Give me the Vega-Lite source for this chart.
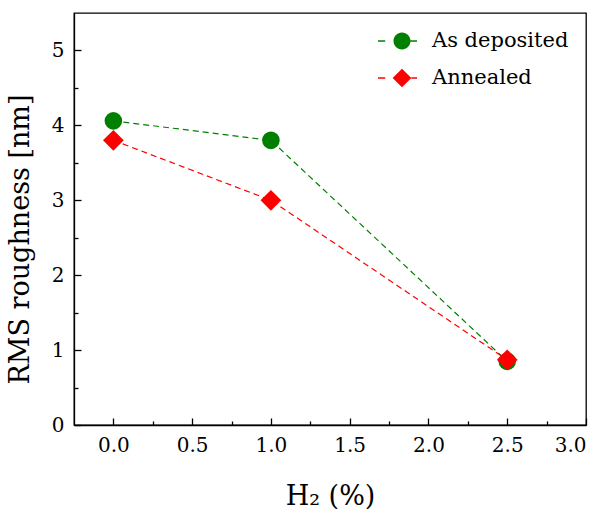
{
  "$schema": "https://vega.github.io/schema/vega-lite/v6.json",
  "width": 512,
  "height": 412,
  "autosize": "none",
  "padding": {"left": 74, "top": 13, "right": 17, "bottom": 84},
  "background": "white",
  "config": {
    "view": {"stroke": "black", "strokeWidth": 1.3},
    "axis": {
      "domainColor": "black",
      "domainWidth": 1.3,
      "tickColor": "black",
      "tickWidth": 1.3,
      "grid": false,
      "labelFont": "DejaVu Serif",
      "labelFontSize": 20,
      "labelColor": "black",
      "titleFont": "DejaVu Serif",
      "titleFontSize": 27,
      "titleFontWeight": "normal",
      "titleColor": "black"
    },
    "legend": {
      "labelFont": "DejaVu Serif",
      "labelFontSize": 21,
      "labelColor": "black"
    }
  },
  "data": {
    "values": [
      {"h2": 0.0, "rms": 4.06, "series": "As deposited"},
      {"h2": 1.0, "rms": 3.80, "series": "As deposited"},
      {"h2": 2.5, "rms": 0.85, "series": "As deposited"},
      {"h2": 0.0, "rms": 3.80, "series": "Annealed"},
      {"h2": 1.0, "rms": 3.00, "series": "Annealed"},
      {"h2": 2.5, "rms": 0.87, "series": "Annealed"}
    ]
  },
  "encoding": {
    "x": {
      "field": "h2",
      "type": "quantitative",
      "scale": {"domain": [-0.25, 3.0], "nice": false, "zero": false},
      "axis": {
        "title": "H₂ (%)",
        "values": [0, 0.25, 0.5, 0.75, 1, 1.25, 1.5, 1.75, 2, 2.25, 2.5, 2.75, 3],
        "format": ".1f",
        "labelExpr": "datum.value % 0.5 === 0 ? datum.label : ''",
        "tickSize": {"condition": {"test": "datum.value % 0.5 === 0", "value": -7}, "value": -4},
        "labelPadding": 17,
        "titleBaseline": "alphabetic",
        "titleY": 79
      }
    },
    "y": {
      "field": "rms",
      "type": "quantitative",
      "scale": {"domain": [0, 5.5], "nice": false},
      "axis": {
        "title": "RMS roughness [nm]",
        "values": [0, 0.5, 1, 1.5, 2, 2.5, 3, 3.5, 4, 4.5, 5],
        "format": ".0f",
        "labelExpr": "datum.value % 1 === 0 ? datum.label : ''",
        "tickSize": {"condition": {"test": "datum.value % 1 === 0", "value": -7}, "value": -4},
        "labelPadding": 17,
        "titleBaseline": "alphabetic",
        "titleAlign": "center",
        "titleAngle": 270,
        "titleX": -46,
        "titleY": 226
      }
    }
  },
  "layer": [
    {
      "transform": [{"filter": "datum.series === 'As deposited'"}],
      "mark": {"type": "line", "strokeDash": [6, 4], "strokeWidth": 1.2, "color": "#008000"},
      "encoding": {}
    },
    {
      "transform": [{"filter": "datum.series === 'Annealed'"}],
      "mark": {"type": "line", "strokeDash": [6, 4], "strokeWidth": 1.2, "color": "#ff0000"},
      "encoding": {}
    },
    {
      "transform": [{"filter": "datum.series === 'As deposited'"}],
      "mark": {"type": "point", "filled": true, "opacity": 1, "shape": "circle", "size": 310, "color": "#008000"}
    },
    {
      "transform": [{"filter": "datum.series === 'Annealed'"}],
      "mark": {"type": "point", "filled": true, "opacity": 1, "shape": "diamond", "size": 430, "color": "#ff0000"}
    },
    {
      "mark": {"type": "point", "filled": true, "opacity": 0, "size": 2304},
      "encoding": {
        "color": {
          "field": "series",
          "type": "nominal",
          "scale": {"domain": ["As deposited", "Annealed"], "range": ["#008000", "#ff0000"]},
          "legend": {
            "orient": "none",
            "legendX": 303,
            "legendY": 3,
            "title": null,
            "symbolSize": 2304,
            "symbolOpacity": 1,
            "labelOffset": 5,
            "rowPadding": -13
          }
        },
        "shape": {
          "field": "series",
          "type": "nominal",
          "scale": {
            "domain": ["As deposited", "Annealed"],
            "range": [
              "M-1,-0.03H-0.7V0.03H-1Z M-0.354,0A0.354,0.354,0,1,1,0.354,0A0.354,0.354,0,1,1,-0.354,0Z M0.354,-0.03H0.625V0.03H0.354Z",
              "M-1,-0.03H-0.7V0.03H-1Z M-0.39,0L0,-0.39L0.39,0L0,0.39Z M0.39,-0.03H0.625V0.03H0.39Z"
            ]
          },
          "legend": {
            "orient": "none",
            "legendX": 303,
            "legendY": 3,
            "title": null,
            "symbolSize": 2304,
            "symbolOpacity": 1,
            "labelOffset": 5,
            "rowPadding": -13
          }
        }
      }
    }
  ]
}
